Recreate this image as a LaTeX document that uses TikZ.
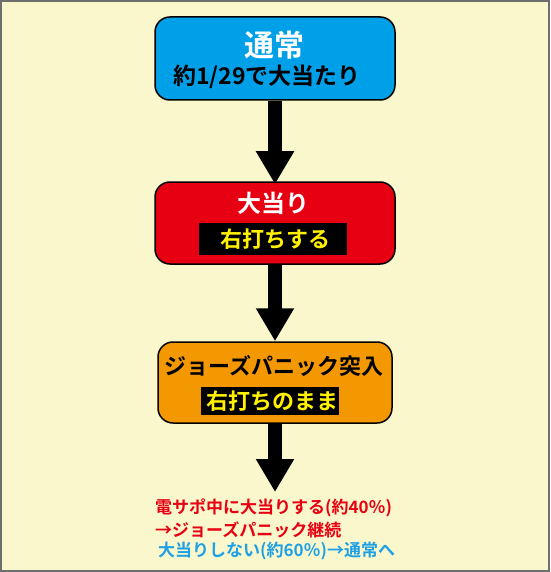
\documentclass[tikz,border=0pt]{standalone}
\usepackage{fontspec}
\setmainfont{Noto Sans CJK JP}[BoldFont={* Bold}]
\usetikzlibrary{arrows.meta}
\definecolor{bgyel}{HTML}{FAF7CC}
\definecolor{frame}{HTML}{6E6E6E}
\definecolor{boxblue}{HTML}{00A0E9}
\definecolor{boxred}{HTML}{E60012}
\definecolor{boxorange}{HTML}{F39800}
\definecolor{txtyellow}{HTML}{FFF100}
\definecolor{noteblue}{HTML}{1EA0E6}
\tikzset{
  stagebox/.style={draw=black, line width=1.5pt, rounded corners=15pt, inner sep=0pt},
  titletext/.style={inner sep=0pt, font=\bfseries},
  band/.style={fill=black, inner sep=0pt},
  bigarrow/.style={line width=14pt, -{Triangle[width=36pt,length=33pt]}},
  note/.style={inner sep=0pt, anchor=west, font=\bfseries\fontsize{17}{20}\selectfont}
}
\begin{document}
\begin{tikzpicture}[x=1pt,y=-1pt]
\useasboundingbox (0,0) rectangle (550,572);
\fill[bgyel] (0,0) rectangle (550,572);
\draw[frame, line width=2pt] (1,1) rectangle (549,571);
% boxes
\node[stagebox, fill=boxblue, minimum width=240pt, minimum height=83pt] (b1) at (275,58.5) {};
\node[titletext, text=white, font=\bfseries\fontsize{30}{32}\selectfont] (t1) at (274,45) {通常};
\node[titletext, text=black, font=\bfseries\fontsize{23}{25}\selectfont] (s1) at (267,77) {約1/29で大当たり};

\node[stagebox, fill=boxred, minimum width=240pt, minimum height=82pt] (b2) at (275,223) {};
\node[titletext, text=white, font=\bfseries\fontsize{24}{26}\selectfont] (t2) at (273,203) {大当り};
\node[band, minimum width=148pt, minimum height=32pt] (k2) at (273,239) {};
\node[titletext, text=txtyellow, font=\bfseries\fontsize{22}{24}\selectfont] (s2) at (275,239) {右打ちする};

\node[stagebox, fill=boxorange, minimum width=234pt, minimum height=81pt] (b3) at (275,382.5) {};
\node[titletext, text=black, font=\bfseries\fontsize{22}{24}\selectfont] (t3) at (274,366) {ジョーズパニック突入};
\node[band, minimum width=138pt, minimum height=28pt] (k3) at (270,401) {};
\node[titletext, text=txtyellow, font=\bfseries\fontsize{22}{24}\selectfont] (s3) at (272,401) {右打ちのまま};

% arrows
\coordinate (e3) at (275,492);
\draw[bigarrow] (b1.south) -- ([yshift=-3pt]b2.north);
\draw[bigarrow] (b2.south) -- (b3.north);
\draw[bigarrow] (b3.south) -- (e3);

% notes
\node[note, text=boxred] (n1) at (155,508) {電サポ中に大当りする(約40％)};
\node[note, text=boxred] (n2) at (155,530) {→ジョーズパニック継続};
\node[note, text=noteblue] (n3) at (158,551) {大当りしない(約60％)→通常へ};
\end{tikzpicture}
\end{document}
